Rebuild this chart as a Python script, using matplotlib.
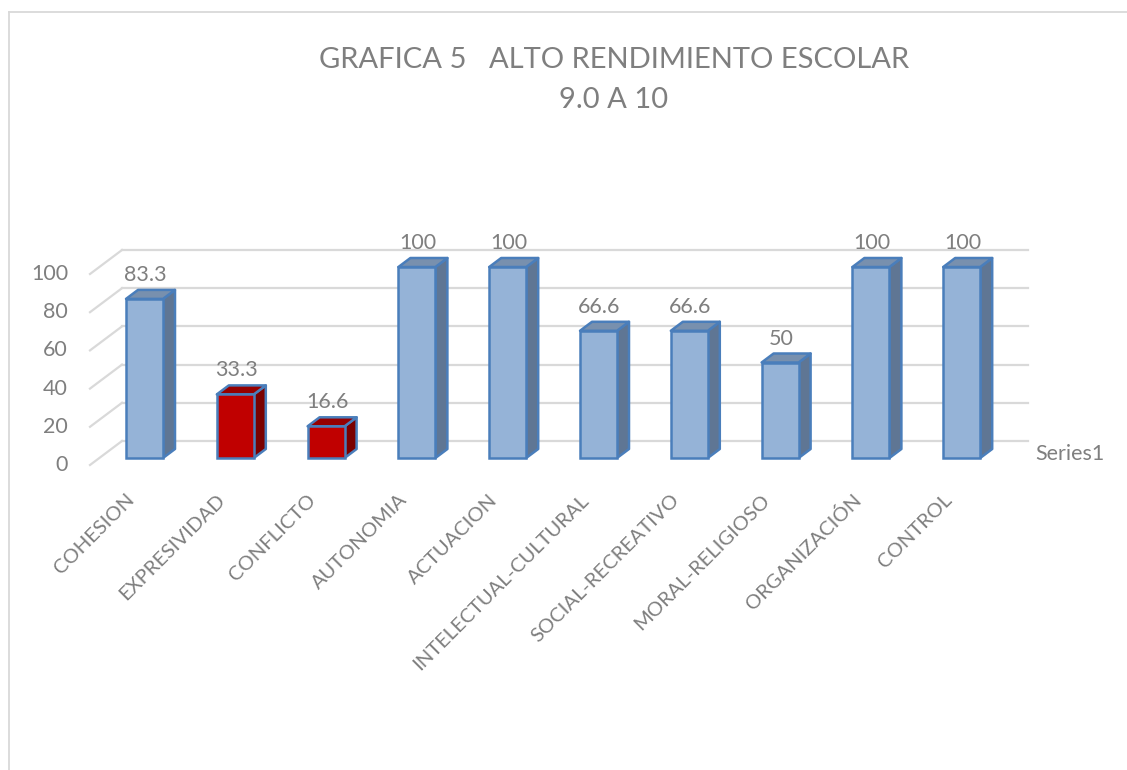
import matplotlib
matplotlib.use("Agg")
import matplotlib.pyplot as plt
from matplotlib.patches import Polygon
from matplotlib.lines import Line2D

# ---------------- data ----------------
categories = ["COHESION", "EXPRESIVIDAD", "CONFLICTO", "AUTONOMIA", "ACTUACION",
              "INTELECTUAL-CULTURAL", "SOCIAL-RECREATIVO", "MORAL-RELIGIOSO",
              "ORGANIZACIÓN", "CONTROL"]
values = [83.3, 33.3, 16.6, 100, 100, 66.6, 66.6, 50, 100, 100]
value_labels = ["83.3", "33.3", "16.6", "100", "100", "66.6", "66.6", "50", "100", "100"]
y_ticks = [0, 20, 40, 60, 80, 100]
highlight = ["EXPRESIVIDAD", "CONFLICTO"]
series_name = "Series1"
title_lines = ["GRAFICA 5   ALTO RENDIMIENTO ESCOLAR", "9.0 A 10"]

# ---------------- layout (pixel calibration) ----------------
W, H = 1127, 770
PX_CAT = 90.8      # pixels per category
X0_PX = 144.5      # pixel x of first category centre
Y0_PX = 458.0      # pixel y of value 0 at bar front
PX_VAL = 1.91      # pixels per value unit

def px_to_dx(p):
    return p / PX_CAT

def px_to_dy(p):
    return p / PX_VAL

fig = plt.figure(figsize=(W / 100, H / 100), dpi=100)
ax = fig.add_axes([0, 0, 1, 1])
ax.set_xlim(-X0_PX / PX_CAT, (W - X0_PX) / PX_CAT)
ax.set_ylim(-(H - Y0_PX) / PX_VAL, Y0_PX / PX_VAL)
ax.axis("off")

FONT = "Lato"
GRAY = "#7F7F7F"
GRID = "#D9D9D9"
FS = 15.5

# chart frame
fx0 = ax.get_xlim()[0] + px_to_dx(9)
fy1 = ax.get_ylim()[1] - px_to_dy(12)
ax.add_line(Line2D([fx0, fx0], [ax.get_ylim()[0], fy1], color=GRID, lw=1.3))
ax.add_line(Line2D([fx0, ax.get_xlim()[1]], [fy1, fy1], color=GRID, lw=1.3))

# 3D geometry offsets
back_dx, back_dy = px_to_dx(-22.5), px_to_dy(17)     # back wall relative to bar front base
front_dx, front_dy = px_to_dx(-54.5), px_to_dy(-7)   # left wall front edge
bar_w = px_to_dx(37)
depth_dx, depth_dy = px_to_dx(12), px_to_dy(9)

n = len(categories)
x = list(range(n))
wall_x0 = back_dx
wall_x1 = (n - 1) + px_to_dx(1028 - 962)

# gridlines: back wall + left wall diagonals
for t in y_ticks:
    ax.add_line(Line2D([wall_x0, wall_x1], [t + back_dy, t + back_dy],
                       color=GRID, lw=1.6, zorder=1))
    ax.add_line(Line2D([front_dx, wall_x0], [t + front_dy, t + back_dy],
                       color=GRID, lw=1.6, zorder=1))
    ax.text(px_to_dx(68 - X0_PX), t + front_dy, f"{t}", ha="right", va="center",
            fontsize=FS, color=GRAY, family=FONT)

# bars
EDGE = "#4A7EBB"
for xi, v, cat in zip(x, values, categories):
    if cat in highlight:
        face, side, top = "#C00000", "#7A0000", "#960000"
    else:
        face, side, top = "#95B3D7", "#5F7694", "#7890AE"
    l, r = xi - bar_w / 2, xi + bar_w / 2
    ax.bar(xi, v, width=bar_w, color=face, edgecolor=EDGE, linewidth=1.8, zorder=3)
    ax.add_patch(Polygon([(r, 0), (r + depth_dx, depth_dy), (r + depth_dx, v + depth_dy), (r, v)],
                         closed=True, facecolor=side, edgecolor=EDGE, linewidth=1.8,
                         joinstyle="round", zorder=2))
    ax.add_patch(Polygon([(l, v), (r, v), (r + depth_dx, v + depth_dy), (l + depth_dx, v + depth_dy)],
                         closed=True, facecolor=top, edgecolor=EDGE, linewidth=1.8,
                         joinstyle="round", zorder=2))

# value labels
for xi, v, lab in zip(x, values, value_labels):
    ax.text(xi + depth_dx / 2 - px_to_dx(5), v + depth_dy + px_to_dy(15), lab,
            ha="center", va="center", fontsize=FS, color=GRAY, family=FONT, zorder=4)

# category labels
for xi, cat in zip(x, categories):
    ax.text(xi - px_to_dx(19), px_to_dy(-33), cat, rotation=45, rotation_mode="anchor",
            ha="right", va="top", fontsize=14.5, color=GRAY, family=FONT)

# series label
ax.text(px_to_dx(1035 - X0_PX), px_to_dy(Y0_PX - 454), series_name, ha="left", va="center",
        fontsize=FS, color=GRAY, family=FONT)

# title
for i, line in enumerate(title_lines):
    ax.text(px_to_dx(614 - X0_PX), px_to_dy(Y0_PX - (60 + 40 * i)), line,
            ha="center", va="center", fontsize=21, color=GRAY, family=FONT)

fig.savefig("out.png", dpi=100)
